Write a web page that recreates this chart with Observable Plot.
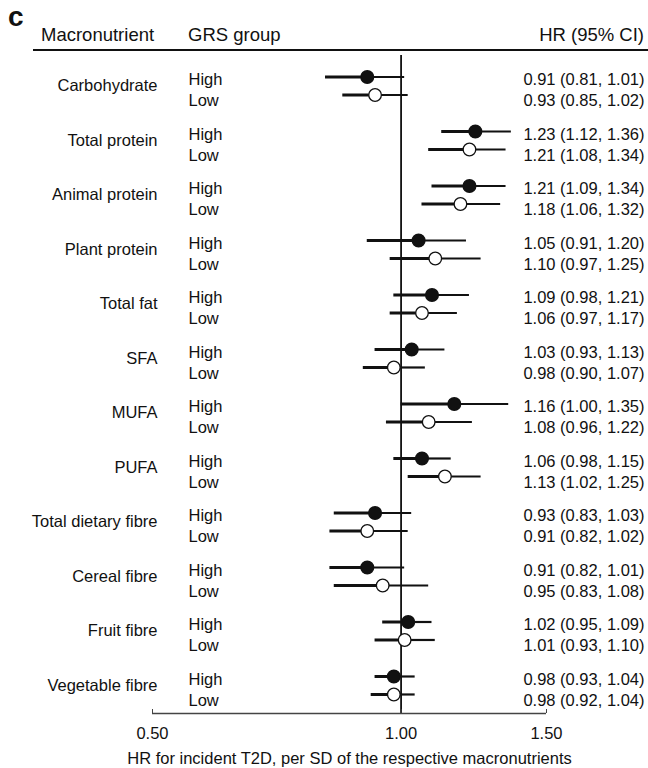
<!DOCTYPE html>
<html>
<head>
<meta charset="utf-8">
<script src="https://cdn.jsdelivr.net/npm/d3@7"></script>
<script src="https://cdn.jsdelivr.net/npm/@observablehq/plot@0.6"></script>
<style>
  body { margin: 0; background: #fff; font-family: "Liberation Sans", Arial, sans-serif; color: #111; }
  #wrap { width: 648px; }
  #head { position: relative; height: 55px; }
  #head span { position: absolute; white-space: nowrap; line-height: 1; }
  #panel { left: 8px; top: 3px; font-size: 28px; font-weight: bold; }
  .hd { top: 26px; font-size: 18.5px; }
  #hMacro { left: 41px; }
  #hGroup { left: 188px; }
  #hHR { right: 4px; }
  #rule { position: absolute; left: 33px; top: 49px; width: 615px; height: 2px; background: #111; }
  #chart svg { display: block; }
</style>
</head>
<body>
<div id="wrap">
  <div id="head">
    <span id="panel">c</span>
    <span class="hd" id="hMacro">Macronutrient</span>
    <span class="hd" id="hGroup">GRS group</span>
    <span class="hd" id="hHR">HR (95% CI)</span>
    <div id="rule"></div>
  </div>
  <div id="chart"></div>
</div>
<script>
const macronutrients = ["Carbohydrate", "Total protein", "Animal protein", "Plant protein", "Total fat", "SFA", "MUFA", "PUFA", "Total dietary fibre", "Cereal fibre", "Fruit fibre", "Vegetable fibre"];
const grsGroups = ["High", "Low"];
const highHR = [0.91, 1.23, 1.21, 1.05, 1.09, 1.03, 1.16, 1.06, 0.93, 0.91, 1.02, 0.98];
const highLo = [0.81, 1.12, 1.09, 0.91, 0.98, 0.93, 1.00, 0.98, 0.83, 0.82, 0.95, 0.93];
const highHi = [1.01, 1.36, 1.34, 1.20, 1.21, 1.13, 1.35, 1.15, 1.03, 1.01, 1.09, 1.04];
const lowHR  = [0.93, 1.21, 1.18, 1.10, 1.06, 0.98, 1.08, 1.13, 0.91, 0.95, 1.01, 0.98];
const lowLo  = [0.85, 1.08, 1.06, 0.97, 0.97, 0.90, 0.96, 1.02, 0.82, 0.83, 0.93, 0.92];
const lowHi  = [1.02, 1.34, 1.32, 1.25, 1.17, 1.07, 1.22, 1.25, 1.02, 1.08, 1.10, 1.04];
const xTicks = [0.5, 1, 1.5];
const xLabel = "HR for incident T2D, per SD of the respective macronutrients";

const fmt = d3.format(".2f");
const rows = [];
macronutrients.forEach((name, i) => {
  rows.push({name, group: grsGroups[0], g: i, hr: highHR[i], lo: highLo[i], hi: highHi[i]});
  rows.push({name, group: grsGroups[1], g: i, hr: lowHR[i], lo: lowLo[i], hi: lowHi[i]});
});
const labels = macronutrients.map((name, i) => ({name, g: i}));
const pointY = d => d.g + (d.group === "Low" ? 0.33 : 0);
const textY = d => d.g + (d.group === "Low" ? 0.44 : 0.055);
const yTop = -0.3945, yBottom = 11.679;
const font = '"Liberation Sans", Arial, sans-serif';
const fs = 16.5;

const chart = Plot.plot({
  width: 648,
  height: 713,
  marginTop: 0,
  marginBottom: 55,
  marginLeft: 152,
  marginRight: 102,
  style: {fontFamily: font, fontSize: fs + "px", color: "#111", background: "white", overflow: "visible"},
  x: {type: "log", domain: [0.5, 1.5]},
  y: {domain: [yTop, yBottom], reverse: true, axis: null},
  marks: [
    Plot.ruleX([1], {stroke: "#111", strokeWidth: 1.8}),
    Plot.ruleY([yBottom], {stroke: "#444", strokeWidth: 1.6}),
    Plot.axisX(xTicks, {tickFormat: fmt, tickSize: -4, tickPadding: 18, label: null, fontSize: fs, stroke: "#444", fill: "#111"}),
    Plot.ruleY(rows, {x1: "lo", x2: "hr", y: pointY, stroke: "#111", strokeWidth: 3}),
    Plot.ruleY(rows, {x1: "hr", x2: "hi", y: pointY, stroke: "#111", strokeWidth: 2.2}),
    Plot.dot(rows.filter(d => d.group === "High"), {x: "hr", y: pointY, r: 6.3, fill: "#111", stroke: "#111"}),
    Plot.dot(rows.filter(d => d.group === "Low"), {x: "hr", y: pointY, r: 6.3, fill: "white", stroke: "#111", strokeWidth: 1.3}),
    Plot.text(labels, {y: d => d.g + 0.165, text: "name", frameAnchor: "left", dx: 5, textAnchor: "end", fontSize: fs, fill: "#111"}),
    Plot.text(rows, {y: textY, text: "group", frameAnchor: "left", dx: 36, textAnchor: "start", fontSize: fs, fill: "#111"}),
    Plot.text(rows, {y: textY, text: d => `${fmt(d.hr)} (${fmt(d.lo)}, ${fmt(d.hi)})`, frameAnchor: "right", dx: 98, textAnchor: "end", fontSize: fs, fill: "#111"}),
    Plot.text([xLabel], {frameAnchor: "bottom", dy: 50, fontSize: fs, fill: "#111"})
  ]
});
document.getElementById("chart").appendChild(chart);
</script>
</body>
</html>
